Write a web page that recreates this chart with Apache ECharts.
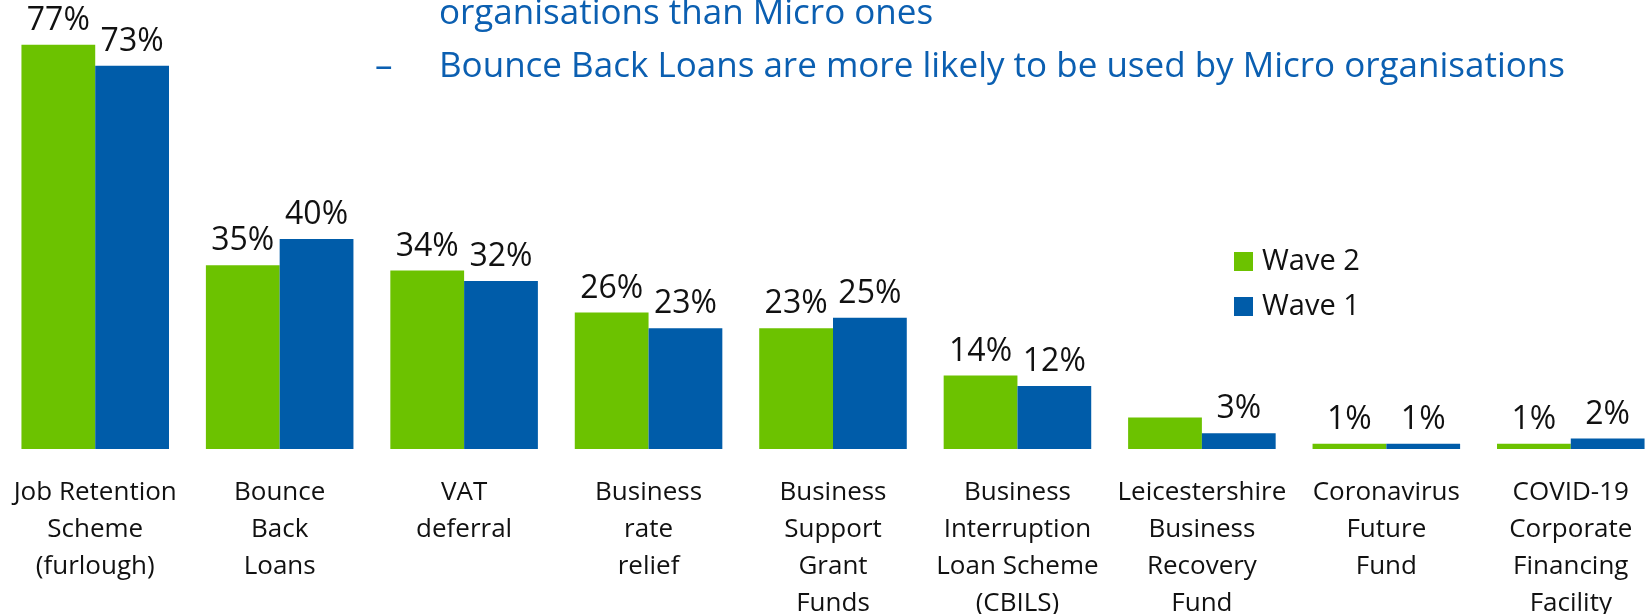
<!DOCTYPE html>
<html>
<head>
<meta charset="utf-8">
<script src="https://cdn.jsdelivr.net/npm/echarts@6/dist/echarts.min.js"></script>
<style>
  html, body { margin: 0; padding: 0; background: #fff; }
  #chart { width: 1648px; height: 614px; }
</style>
</head>
<body>
<div id="chart"></div>
<script>
// Support schemes used, by wave (% of organisations)
const categories = [
  'Job Retention\nScheme\n(furlough)',
  'Bounce\nBack\nLoans',
  'VAT\ndeferral',
  'Business\nrate\nrelief',
  'Business\nSupport\nGrant\nFunds',
  'Business\nInterruption\nLoan Scheme\n(CBILS)',
  'Leicestershire\nBusiness\nRecovery\nFund',
  'Coronavirus\nFuture\nFund',
  'COVID-19\nCorporate\nFinancing\nFacility'
];
const wave2 = [77, 35, 34, 26, 23, 14, 6, 1, 1];
const wave1 = [73, 40, 32, 23, 25, 12, 3, 1, 2];
// Category whose Wave 2 bar carries no printed value
const wave2UnlabelledCategory = 'Leicestershire\nBusiness\nRecovery\nFund';

const headingLines = [
  'organisations than Micro ones',
  'Bounce Back Loans are more likely to be used by Micro organisations'
];

const FONT = '"Open Sans", "Noto Sans", sans-serif';
const GREEN = '#6cc200';
const BLUE = '#005ca9';
const TEXT_BLUE = '#0b5fb1';

const labelStyle = {
  show: true,
  position: 'top',
  distance: 8,
  formatter: '{c}%',
  color: '#111',
  fontFamily: FONT,
  fontSize: 32
};

const wave2Data = wave2.map((v, i) =>
  categories[i] === wave2UnlabelledCategory ? { value: v, label: { show: false } } : v
);

const chart = echarts.init(document.getElementById('chart'));
chart.setOption({
  animation: false,
  backgroundColor: '#fff',
  textStyle: { fontFamily: FONT },
  grid: {
    left: 3, top: 29, width: 1660, height: 420,
    containLabel: false,
    outerBoundsMode: 'none'
  },
  xAxis: {
    type: 'category',
    data: categories,
    axisLine: { show: false },
    axisTick: { show: false },
    axisLabel: {
      interval: 0,
      margin: 25,
      color: '#111',
      fontFamily: FONT,
      fontSize: 26,
      lineHeight: 37,
      verticalAlign: 'top'
    }
  },
  yAxis: {
    type: 'value',
    min: 0,
    max: 80,
    show: false,
    splitLine: { show: false }
  },
  legend: {
    orient: 'vertical',
    left: 1229,
    top: 242,
    itemWidth: 19,
    itemHeight: 19,
    itemGap: 16,
    selectedMode: false,
    icon: 'rect',
    data: ['Wave 2', 'Wave 1'],
    textStyle: {
      color: '#111',
      fontFamily: FONT,
      fontSize: 29,
      lineHeight: 28,
      padding: [0, 0, 0, 4]
    }
  },
  graphic: [
    {
      type: 'text',
      left: 439,
      top: -3,
      style: { text: headingLines[0], fill: TEXT_BLUE, font: '35px ' + FONT }
    },
    {
      type: 'text',
      left: 375,
      top: 50,
      style: { text: '\u2013', fill: TEXT_BLUE, font: '35px ' + FONT }
    },
    {
      type: 'text',
      left: 439,
      top: 50,
      style: { text: headingLines[1], fill: TEXT_BLUE, font: '35px ' + FONT }
    }
  ],
  series: [
    {
      name: 'Wave 2',
      type: 'bar',
      data: wave2Data,
      itemStyle: { color: GREEN },
      barGap: '0%',
      barCategoryGap: '20%',
      label: labelStyle
    },
    {
      name: 'Wave 1',
      type: 'bar',
      data: wave1,
      itemStyle: { color: BLUE },
      barGap: '0%',
      barCategoryGap: '20%',
      label: labelStyle
    }
  ]
});
</script>
</body>
</html>
